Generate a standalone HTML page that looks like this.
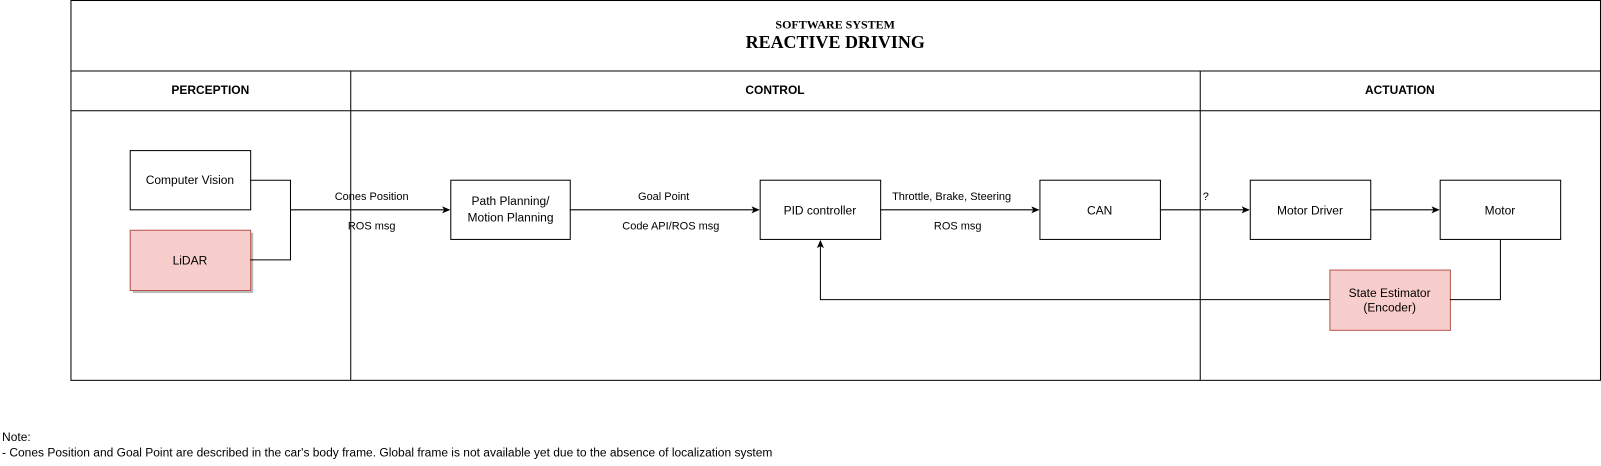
<!DOCTYPE html>
<html><head><style>html,body{margin:0;padding:0;background:#fff;overflow:hidden;width:1601px;height:466px}svg{display:block;position:absolute;left:0;top:0}text{font-family:"Liberation Sans",sans-serif;font-size:11.75px;fill:#000}</style></head><body>
<svg width="1601" height="466" viewBox="0 0 1568 456.4" xmlns="http://www.w3.org/2000/svg">
<defs><marker id="a" markerWidth="8" markerHeight="8" refX="7" refY="4" orient="auto" markerUnits="userSpaceOnUse"><path d="M0,0.5 L8,4 L0,7.5 L2,4 Z" fill="#000"/></marker></defs>
<g fill="none" stroke="#000" stroke-width="1">
<rect x="69.5" y="0.5" width="1498" height="372"/>
<line x1="69" y1="69.5" x2="1567" y2="69.5"/>
<line x1="69" y1="108.5" x2="1567" y2="108.5"/>
<line x1="343.5" y1="69" x2="343.5" y2="372"/>
<line x1="1175.5" y1="69" x2="1175.5" y2="372"/>
</g>
<text x="818" y="28" text-anchor="middle" style="font-family:'Liberation Serif',serif;font-weight:bold;font-size:11.75px">SOFTWARE SYSTEM</text>
<text x="818" y="47" text-anchor="middle" style="font-family:'Liberation Serif',serif;font-weight:bold;font-size:17.6px">REACTIVE DRIVING</text>
<text x="206" y="92" text-anchor="middle" font-weight="bold">PERCEPTION</text>
<text x="759" y="92" text-anchor="middle" font-weight="bold">CONTROL</text>
<text x="1371" y="92" text-anchor="middle" font-weight="bold">ACTUATION</text>
<rect x="130" y="228" width="118" height="59" fill="#bbb"/>
<g stroke="#000" stroke-width="1" fill="#fff">
<rect x="127.5" y="147.5" width="118" height="58"/>
<rect x="441.5" y="176.5" width="117" height="58"/>
<rect x="744.5" y="176.5" width="118" height="58"/>
<rect x="1018.5" y="176.5" width="118" height="58"/>
<rect x="1224.5" y="176.5" width="118" height="58"/>
<rect x="1410.5" y="176.5" width="118" height="58"/>
</g>
<g stroke="#b85450" stroke-width="1" fill="#f8cecc">
<rect x="127.5" y="225.5" width="118" height="59"/>
<rect x="1302.5" y="264.5" width="118" height="59"/>
</g>
<g fill="none" stroke="#000" stroke-width="1">
<polyline points="245,176.5 284.5,176.5 284.5,254.5 245,254.5"/>
<line x1="284" y1="205.5" x2="440" y2="205.5" marker-end="url(#a)"/>
<line x1="558" y1="205.5" x2="743" y2="205.5" marker-end="url(#a)"/>
<line x1="862" y1="205.5" x2="1017" y2="205.5" marker-end="url(#a)"/>
<line x1="1136" y1="205.5" x2="1223" y2="205.5" marker-end="url(#a)"/>
<line x1="1342" y1="205.5" x2="1409" y2="205.5" marker-end="url(#a)"/>
<polyline points="1469.5,235 1469.5,293.5 1420,293.5"/>
<polyline points="1302,293.5 803.5,293.5 803.5,236" marker-end="url(#a)"/>
</g>
<g text-anchor="middle">
<text x="186" y="180">Computer Vision</text>
<text x="186" y="259">LiDAR</text>
<text x="500" y="201">Path Planning/</text>
<text x="500" y="217">Motion Planning</text>
<text x="803" y="210">PID controller</text>
<text x="1077" y="210">CAN</text>
<text x="1283" y="210">Motor Driver</text>
<text x="1469" y="210">Motor</text>
<text x="1361" y="291">State Estimator</text>
<text x="1361" y="305">(Encoder)</text>
</g>
<g text-anchor="middle">
<text x="364" y="196" style="font-size:10.77px">Cones Position</text>
<text x="364" y="225" style="font-size:10.77px">ROS msg</text>
<text x="650" y="196" style="font-size:10.77px">Goal Point</text>
<text x="657" y="225" style="font-size:10.77px">Code API/ROS msg</text>
<text x="932" y="196" style="font-size:10.77px">Throttle, Brake, Steering</text>
<text x="938" y="225" style="font-size:10.77px">ROS msg</text>
</g>
<text x="1178" y="196" style="font-size:10.77px">?</text>
<text x="2" y="432">Note:</text>
<text x="2" y="447">- Cones Position and Goal Point are described in the car's body frame. Global frame is not available yet due to the absence of localization system</text>
</svg>
</body></html>
